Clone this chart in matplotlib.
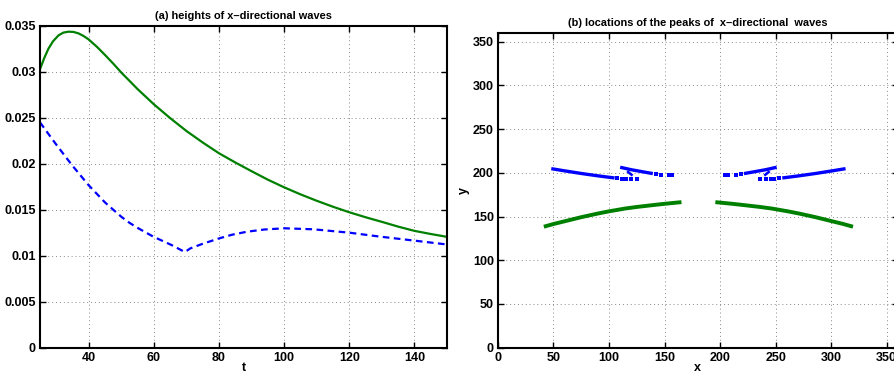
import matplotlib
matplotlib.use("Agg")
import matplotlib.pyplot as plt

plt.rcParams['font.family'] = ['Liberation Sans', 'DejaVu Sans']
plt.rcParams['font.weight'] = 'bold'

# (a) heights of x-directional waves
t_solid = [25, 26.3, 27.6, 29, 30.7, 32.2, 33.8, 35.3, 36.8, 38.3, 39.9, 42.5, 45, 47.5,
           50, 55, 60, 65, 70, 75, 80, 85, 90, 95, 100, 105, 110, 115, 120, 125, 130,
           135, 140, 145, 150]
h_solid = [0.03026, 0.03147, 0.03250, 0.03330, 0.03395, 0.03425, 0.03435, 0.03432,
           0.03417, 0.03390, 0.03352, 0.03270, 0.03181, 0.03088, 0.02990, 0.02810,
           0.02645, 0.02495, 0.02355, 0.02230, 0.02113, 0.02013, 0.01918, 0.01826,
           0.01743, 0.01667, 0.01597, 0.01532, 0.01472, 0.01418, 0.01368, 0.01316,
           0.01270, 0.01236, 0.01205]
t_dash = [25, 29.7, 34.8, 39.9, 45, 47.5, 50.1, 52.6, 55.2, 59.8, 65.4, 69.5, 71.2, 75,
          80.1, 84, 88.6, 94, 100.1, 109, 120.1, 129.5, 140.2, 150]
h_dash = [0.02450, 0.02222, 0.01986, 0.01768, 0.01578, 0.01500, 0.01420, 0.01355,
          0.01298, 0.01207, 0.01116, 0.01040, 0.01080, 0.01130, 0.01189, 0.01228,
          0.01261, 0.01285, 0.01298, 0.01287, 0.01250, 0.01207, 0.01163, 0.01122]
a_yticks = [0, 0.005, 0.01, 0.015, 0.02, 0.025, 0.03, 0.035]
a_ylabels = ['0', '0.005', '0.01', '0.015', '0.02', '0.025', '0.03', '0.035']
a_xticks = [40, 60, 80, 100, 120, 140]

# (b) locations of the peaks
b_ticks = [0, 50, 100, 150, 200, 250, 300, 350]
green_l_x = [43, 50, 60, 75, 90, 100, 115, 125, 140, 150, 163.5]
green_l_y = [139, 141.5, 144.6, 149.3, 153.5, 156, 159.3, 161, 163.2, 164.6, 166.3]
green_r_x = [197.5, 211, 221, 236, 246, 261, 271, 286, 301, 311, 318]
green_r_y = [166.3, 164.6, 163.2, 161, 159.3, 156, 153.5, 149.3, 144.6, 141.5, 139]

blue_out_l_x = [49.5, 60, 75, 90, 103.5]
blue_out_l_y = [204.5, 202.3, 199.3, 196.6, 194.4]
blue_out_l_dots_x = [107.5, 112, 115.5, 119.5, 125]
blue_out_l_dots_y = [193.6, 193.4, 193.4, 193.4, 193.3]
blue_in_l_x = [111.5, 120, 130, 138]
blue_in_l_y = [206, 203.6, 201.3, 199.5]
blue_in_l_dots_x = [142.5, 147, 154, 156.5]
blue_in_l_dots_y = [198.6, 197.9, 197.2, 197]
blue_hook_l_x = [117.2, 120.3]
blue_hook_l_y = [201.0, 197.8]

blue_out_r_x = [257.5, 271, 286, 301, 311.5]
blue_out_r_y = [194.4, 196.6, 199.3, 202.3, 204.5]
blue_out_r_dots_x = [236, 241.5, 245.5, 249, 253.5]
blue_out_r_dots_y = [193.3, 193.4, 193.4, 193.4, 193.6]
blue_in_r_x = [223, 231, 241, 249.5]
blue_in_r_y = [199.5, 201.3, 203.6, 206]
blue_in_r_dots_x = [204.5, 207, 214, 218.5]
blue_in_r_dots_y = [197, 197.2, 197.9, 198.6]
blue_hook_r_x = [240.7, 243.8]
blue_hook_r_y = [197.8, 201.0]

green = '#008000'
blue = '#0000ff'

fig = plt.figure(figsize=(8.94, 3.74), dpi=100)
ax1 = fig.add_axes([0.0447, 0.0703, 0.4553, 0.861])
ax2 = fig.add_axes([0.557, 0.0703, 0.4472, 0.8415])


def style_axis(ax):
    ax.grid(True, linestyle=(0, (1, 3)), color='#888888', linewidth=0.7)
    ax.tick_params(direction='in', top=True, right=True, length=4, width=1,
                   labelsize=9, pad=3)
    for s in ax.spines.values():
        s.set_linewidth(1.5)
    for lab in ax.get_xticklabels() + ax.get_yticklabels():
        lab.set_fontweight('bold')


ax1.plot(t_solid, h_solid, color=green, lw=1.6)
ax1.plot(t_dash, h_dash, color=blue, lw=1.6, dashes=(3, 2))
ax1.set_xlim(25, 150)
ax1.set_ylim(0, 0.035)
ax1.set_xticks(a_xticks)
ax1.set_yticks(a_yticks)
ax1.set_yticklabels(a_ylabels)
ax1.set_xlabel('t', fontsize=9, fontweight='bold', labelpad=-1)
ax1.set_title('(a) heights of x\u2013directional waves', fontsize=7.9,
              fontweight='bold', pad=5)
style_axis(ax1)

ax2.plot(green_l_x, green_l_y, color=green, lw=2.8)
ax2.plot(green_r_x, green_r_y, color=green, lw=2.8)
for xs, ys in [(blue_out_l_x, blue_out_l_y), (blue_in_l_x, blue_in_l_y),
               (blue_out_r_x, blue_out_r_y), (blue_in_r_x, blue_in_r_y)]:
    ax2.plot(xs, ys, color=blue, lw=2.4)
for xs, ys in [(blue_hook_l_x, blue_hook_l_y), (blue_hook_r_x, blue_hook_r_y)]:
    ax2.plot(xs, ys, color=blue, lw=1.8)
for xs, ys in [(blue_out_l_dots_x, blue_out_l_dots_y), (blue_in_l_dots_x, blue_in_l_dots_y),
               (blue_out_r_dots_x, blue_out_r_dots_y), (blue_in_r_dots_x, blue_in_r_dots_y)]:
    ax2.plot(xs, ys, 's', color=blue, ms=2.2, mew=0)
ax2.set_xlim(0, 360)
ax2.set_ylim(0, 360)
ax2.set_xticks(b_ticks)
ax2.set_yticks(b_ticks)
ax2.set_xlabel('x', fontsize=9, fontweight='bold', labelpad=-1)
ax2.set_ylabel('y', fontsize=9, fontweight='bold', labelpad=2)
ax2.set_title('(b) locations of the peaks of  x\u2013directional  waves', fontsize=7.9,
              fontweight='bold', pad=5)
style_axis(ax2)

fig.savefig('out.png', dpi=100)
